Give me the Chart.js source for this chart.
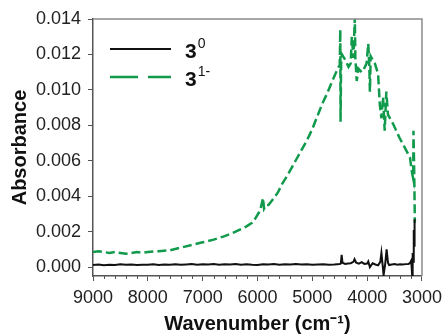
<!DOCTYPE html>
<html>
<head>
<meta charset="utf-8">
<script src="https://cdn.jsdelivr.net/npm/chart.js@4/dist/chart.umd.min.js"></script>
<style>
html,body{margin:0;padding:0;background:#fff;}
canvas{display:block;}
</style>
</head>
<body>
<canvas id="c" width="448" height="336"></canvas>
<script>
// Series 3^0 (black, solid)
const wn30 = [
  9000,8900,8800,8700,8600,8500,8400,8300,8200,8100,
  8000,7900,7800,7700,7600,7500,7400,7300,7200,7100,
  7000,6900,6800,6700,6600,6500,6400,6300,6200,6100,
  6000,5900,5800,5700,5600,5500,5400,5300,5200,5100,
  5000,4900,4800,4700,4600,4500,4480,4465,4450,4400,
  4350,4300,4250,4230,4200,4150,4100,4050,4000,3980,
  3950,3900,3850,3800,3760,3740,3720,3700,3670,3645,
  3620,3600,3550,3500,3450,3400,3350,3300,3250,3220,
  3200,3190,3180,3170,3160,3150,3145,3140,3135,3130
];
const abs30 = [
  0.00012,0.00015,0.00011,0.00014,0.00012,0.00016,0.00013,0.00015,0.00012,0.00014,
  0.00013,0.00016,0.00012,0.00015,0.00014,0.00016,0.00013,0.00015,0.00017,0.00014,
  0.00016,0.00015,0.00017,0.00014,0.00016,0.00015,0.00017,0.00014,0.00016,0.00013,
  0.00012,0.00016,0.00015,0.00017,0.00014,0.00016,0.00015,0.00017,0.00015,0.00016,
  0.00014,0.00015,0.00016,0.00014,0.00015,0.00018,0.0002,0.0007,0.00025,0.00018,
  0.0002,0.00022,0.0003,0.00045,0.00025,0.0002,0.00028,0.00018,0.0002,0.00032,
  0.0,0.00022,0.00015,0.0001,0.0003,0.0008,0.0002,-0.00045,0.0002,0.001,
  0.00025,0.00012,0.00015,0.00017,0.00014,0.00016,0.00015,0.00017,0.00018,0.00022,
  0.00035,0.0001,-0.00045,0.0008,0.0003,0.0021,0.0012,0.0027,0.0015,0.0024
];
// Series 3^1- (green, dashed)
const wn31 = [
  9000,8900,8800,8700,8600,8500,8400,8300,8200,8100,
  8000,7900,7800,7600,7400,7200,7000,6800,6600,6400,
  6300,6200,6100,6050,5950,5900,5880,5840,5800,5700,
  5630,5550,5450,5360,5270,5180,5090,5000,4910,4820,
  4730,4650,4580,4520,4500,4490,4485,4475,4460,4400,
  4340,4300,4280,4250,4225,4215,4190,4160,4100,4070,
  4010,3980,3960,3950,3935,3900,3860,3800,3770,3740,
  3710,3680,3650,3620,3530,3410,3290,3220,3180,3160,
  3155,3140,3130
];
const abs31 = [
  0.00085,0.0009,0.00085,0.0008,0.00085,0.0008,0.00075,0.0008,0.00085,0.00082,
  0.00085,0.00088,0.0009,0.00095,0.0011,0.00125,0.0014,0.00155,0.00175,0.002,
  0.00215,0.0023,0.0025,0.0027,0.0032,0.0039,0.0033,0.0035,0.0035,0.0039,
  0.0042,0.0047,0.0052,0.0057,0.0062,0.0067,0.0072,0.0078,0.0085,0.0092,
  0.0098,0.0104,0.0109,0.0113,0.0114,0.0134,0.0082,0.0115,0.012,0.0117,
  0.0113,0.0115,0.013,0.0118,0.0141,0.0118,0.0105,0.0112,0.011,0.0111,
  0.0115,0.0126,0.0113,0.0099,0.0119,0.0117,0.0115,0.0109,0.0092,0.0084,
  0.0096,0.0077,0.0099,0.0086,0.0081,0.0073,0.0066,0.0062,0.0053,0.005,
  0.0077,0.005,0.0025
];
const seriesBase = ['3', '3'];
const seriesSup = ['0', '1-'];
const xTicks = [9000, 8000, 7000, 6000, 5000, 4000, 3000];
const yTicks = [0, 0.002, 0.004, 0.006, 0.008, 0.010, 0.012, 0.014];
const xMinorStep = 200;

const FONT = "'Liberation Sans', Arial, sans-serif";

const framePlugin = {
  id: 'frame',
  afterDraw(chart) {
    const ctx = chart.ctx;
    const a = chart.chartArea;
    const xs = chart.scales.x;
    ctx.save();
    // top & right border
    ctx.strokeStyle = '#8a8a8a';
    ctx.lineWidth = 1.5;
    ctx.beginPath();
    ctx.moveTo(a.left, a.top);
    ctx.lineTo(a.right, a.top);
    ctx.lineTo(a.right, a.bottom);
    ctx.stroke();
    // minor ticks on x axis
    ctx.strokeStyle = '#555';
    ctx.lineWidth = 1;
    for (let v = xs.min; v <= xs.max; v += xMinorStep) {
      if (v % 1000 === 0) continue;
      const px = Math.round(xs.getPixelForValue(v)) + 0.5;
      ctx.beginPath();
      ctx.moveTo(px, a.bottom);
      ctx.lineTo(px, a.bottom + 3);
      ctx.stroke();
    }
    // legend
    const ds = chart.data.datasets;
    const x0 = a.left + 17, x1 = a.left + 78;
    const rows = [a.top + 30, a.top + 58];
    ds.forEach((d, i) => {
      const y = rows[i];
      ctx.strokeStyle = d.borderColor;
      ctx.lineWidth = d.borderWidth;
      ctx.setLineDash(i === 1 ? [28, 10] : []);
      ctx.beginPath();
      ctx.moveTo(x0, y);
      ctx.lineTo(x1, y);
      ctx.stroke();
      ctx.setLineDash([]);
      ctx.fillStyle = '#111';
      ctx.textBaseline = 'alphabetic';
      ctx.textAlign = 'left';
      ctx.font = 'bold 21px ' + FONT;
      ctx.fillText(seriesBase[i], a.left + 92, y + 9);
      const w = ctx.measureText(seriesBase[i]).width;
      ctx.font = '14px ' + FONT;
      ctx.fillText(seriesSup[i], a.left + 92 + w + 1, y - 1);
    });
    ctx.restore();
  }
};

new Chart(document.getElementById('c'), {
  type: 'line',
  data: {
    datasets: [
      {
        label: '3^0',
        data: wn30.map((x, i) => ({x: x, y: abs30[i]})),
        borderColor: '#111111',
        borderWidth: 2,
        pointRadius: 0,
        tension: 0,
        fill: false
      },
      {
        label: '3^1-',
        data: wn31.map((x, i) => ({x: x, y: abs31[i]})),
        borderColor: '#119a4c',
        borderWidth: 2.5,
        borderDash: [9, 4],
        pointRadius: 0,
        tension: 0,
        fill: false
      }
    ]
  },
  options: {
    responsive: false,
    animation: false,
    devicePixelRatio: 1,
    layout: {padding: {top: 19, right: 22, left: 0, bottom: 0}},
    plugins: {legend: {display: false}, tooltip: {enabled: false}},
    scales: {
      x: {
        type: 'linear',
        reverse: true,
        min: 3000,
        max: 9000,
        afterBuildTicks: s => { s.ticks = xTicks.map(v => ({value: v})); },
        afterFit: s => { s.height = 60; },
        ticks: {
          font: {family: FONT, size: 18},
          color: '#222',
          padding: 6,
          maxRotation: 0,
          autoSkip: false,
          callback: v => String(v)
        },
        grid: {drawOnChartArea: false, tickLength: 5, color: '#555'},
        border: {color: '#555', width: 1.5},
        title: {
          display: true,
          text: 'Wavenumber (cm⁻¹)',
          font: {family: FONT, size: 20, weight: 'bold'},
          color: '#111',
          padding: {top: 0, bottom: 0}
        }
      },
      y: {
        min: -0.0005,
        max: 0.014,
        afterBuildTicks: s => { s.ticks = yTicks.map(v => ({value: v})); },
        afterFit: s => { s.width = 93; },
        ticks: {
          font: {family: FONT, size: 18},
          color: '#222',
          padding: 7,
          autoSkip: false,
          callback: v => v.toFixed(3)
        },
        grid: {drawOnChartArea: false, tickLength: 5, color: '#555'},
        border: {color: '#555', width: 1.5},
        title: {
          display: true,
          text: 'Absorbance',
          font: {family: FONT, size: 20, weight: 'bold'},
          color: '#111',
          padding: {top: 8, bottom: 0}
        }
      }
    }
  },
  plugins: [framePlugin]
});
</script>
</body>
</html>
